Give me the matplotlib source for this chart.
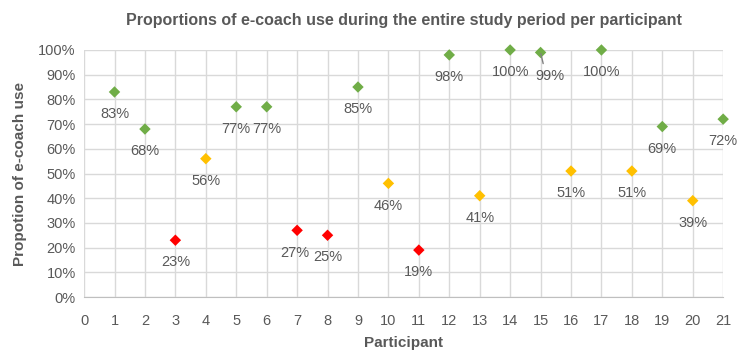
import numpy as np
import matplotlib.pyplot as plt

# DATA
participants = list(range(1, 22))
usage = [83, 68, 23, 56, 77, 77, 27, 25, 85, 46, 19, 98, 41, 100, 99, 51, 100, 51, 69, 39, 72]
labels = [f'{v}%' for v in usage]

GREEN = '#70AD47'
YELLOW = '#FFC000'
RED = '#FF0000'
TXT = '#595959'


def point_color(v):
    if v >= 60:
        return GREEN
    elif v >= 35:
        return YELLOW
    return RED


colors = [point_color(v) for v in usage]

plt.rcParams['font.family'] = ['Liberation Sans', 'DejaVu Sans']

fig = plt.figure(figsize=(7.44, 3.57), dpi=100)
ax = fig.add_axes([0.113, 0.168, 0.859, 0.692])

ax.scatter(participants, usage, marker='D', s=34, c=colors, zorder=3,
           linewidths=0, clip_on=False)

# DATA LABELS (offsets in points)
offsets = {7: (-2, -16), 15: (7, -17)}
for p, v, lab in zip(participants, usage, labels):
    dx, dy = offsets.get(p, (0, -16))
    if p == 15:
        ax.annotate(lab, (p, v), xytext=(dx, dy), textcoords='offset points',
                    ha='center', va='center', fontsize=10.5, color=TXT,
                    arrowprops=dict(arrowstyle='-', color='#808080', lw=1,
                                    shrinkA=2, shrinkB=1, relpos=(0.3, 1.0)))
    else:
        ax.annotate(lab, (p, v), xytext=(dx, dy), textcoords='offset points',
                    ha='center', va='center', fontsize=10.5, color=TXT)

ax.set_xlim(0, 21)
ax.set_ylim(0, 100)
ax.set_xticks(range(0, 22))
ax.set_yticks(range(0, 101, 10))
ax.set_yticklabels([f'{t}%' for t in range(0, 101, 10)])
ax.tick_params(axis='both', length=0, colors=TXT, labelsize=10.5)
ax.tick_params(axis='x', pad=12)
ax.tick_params(axis='y', pad=6)

ax.grid(True, color='#D9D9D9', lw=1)
ax.set_axisbelow(True)
for side in ['top', 'right', 'left']:
    ax.spines[side].set_visible(False)
ax.spines['bottom'].set_color('#BFBFBF')

ax.set_xlabel('Participant', fontsize=11, fontweight='bold', color=TXT, labelpad=6)
ax.set_ylabel('Propotion of e-coach use', fontsize=11, fontweight='bold', color=TXT, labelpad=8)
ax.set_title('Proportions of e-coach use during the entire study period per participant',
             fontsize=11.5, fontweight='bold', color=TXT, pad=18)

fig.savefig('out.png', dpi=100)
